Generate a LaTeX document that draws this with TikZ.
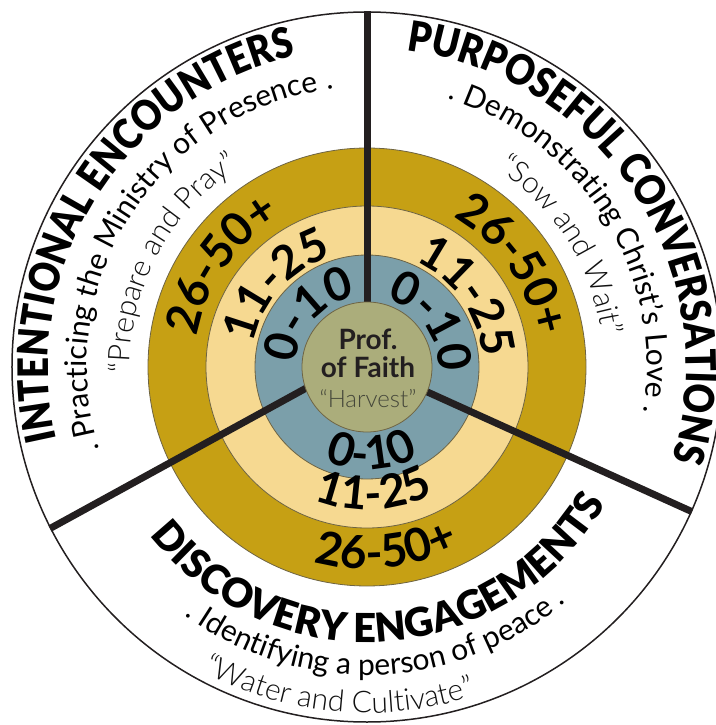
\documentclass[tikz,border=0pt]{standalone}
\usepackage{fontspec}
\setmainfont{Lato}
\newfontfamily\latoblack{Lato Black}[FakeStretch=0.87]
\newfontfamily\latoblackwide{Lato Black}
\newfontfamily\latolight{Lato Light}
\usetikzlibrary{decorations.text}

\definecolor{goldring}{HTML}{C6A014}
\definecolor{sandring}{HTML}{F6D991}
\definecolor{bluering}{HTML}{7B9FAA}
\definecolor{olivedisc}{HTML}{ABAD7B}
\definecolor{ringedge}{HTML}{6E6444}
\definecolor{inkline}{HTML}{231F20}
\definecolor{harvestgray}{HTML}{45473A}
\definecolor{quotegray}{HTML}{111111}

% fonts for the curved texts
\newcommand\ttlfont{\latoblack\fontsize{42}{42}\selectfont}
\newcommand\ttlwidefont{\latoblackwide\fontsize{40}{40}\selectfont}
\newcommand\subfont{\fontsize{30}{30}\selectfont}
\newcommand\quotefont{\latolight\fontsize{30}{30}\selectfont\color{quotegray}}
\newcommand\numfont{\fontsize{46}{46}\selectfont\bfseries}

\begin{document}
\begin{tikzpicture}[
    x=1pt, y=1pt,
    % Styles
    ring/.style={% For the coloured rings
        circle,
        draw=ringedge,
        line width=0.8pt,
        inner sep=0pt,
        },
    rim/.style={% For the outer circle
        circle,
        draw=inkline,
        line width=1.5pt,
        inner sep=0pt,
        },
    divider/.style={% For the three spokes
        draw=inkline,
        line width=7pt,
        },
    arctext/.style={% Text set along an arc
        decorate,
        decoration={text along path, text align=center, text={#1}},
        },
    hublabel/.style={% For the centre texts
        anchor=base,
        inner sep=0pt,
        },
    ]
    \useasboundingbox (-367,-358) rectangle (348,367);

    % Draw the outer circle and the rings
    \node [rim, minimum size=710pt] (outer) at (0,0) {};
    \node [ring, fill=goldring, minimum size=438pt] (gold) at (0,0) {};
    \node [ring, fill=sandring, minimum size=322pt] (sand) at (0,0) {};
    \node [ring, fill=bluering, minimum size=224pt] (blue) at (0,0) {};

    % Draw the spokes
    \draw [divider] (0,60) -- (outer.90);
    \draw [divider] (-57,-19) -- (outer.207);
    \draw [divider] (56,-23) -- (outer.336);

    % Draw the hub
    \node [ring, fill=olivedisc, minimum size=130pt] (hub) at (0,0) {};
    \node [hublabel, font=\fontsize{28}{28}\selectfont\bfseries, text=inkline] (prof) at (1,17) {Prof.};
    \node [hublabel, font=\fontsize{28}{28}\selectfont\bfseries, text=inkline] (faith) at (1,-10) {of Faith};
    \node [hublabel, font=\latolight\fontsize{24}{24}\selectfont, text=harvestgray] (harvest) at (1,-40) {“Harvest”};

    % Intentional encounters (upper left)
    \path [arctext={|\ttlfont|INTENTIONAL ENCOUNTERS}] (228:319) arc[start angle=228, end angle=68, radius=319];
    \path [arctext={|\subfont|. Practicing the Ministry of Presence .}] (227:280) arc[start angle=227, end angle=67, radius=280];
    \path [arctext={|\quotefont|“Prepare and Pray”}] (232:237) arc[start angle=232, end angle=72, radius=237];
    \path [arctext={|\numfont|26-50+}] (225:173) arc[start angle=225, end angle=65, radius=173];
    \path [arctext={|\numfont|11-25}] (218:116) arc[start angle=218, end angle=58, radius=116];
    \path [arctext={|\numfont|0-10}] (218:71) arc[start angle=218, end angle=58, radius=71];

    % Purposeful conversations (upper right)
    \path [arctext={|\ttlfont|PURPOSEFUL CONVERSATIONS}] (113:319) arc[start angle=113, end angle=-47, radius=319];
    \path [arctext={|\subfont|. Demonstrating Christ’s Love .}] (112:280) arc[start angle=112, end angle=-48, radius=280];
    \path [arctext={|\quotefont|“Sow and Wait”}] (112:237) arc[start angle=112, end angle=-48, radius=237];
    \path [arctext={|\numfont|26-50+}] (115:173) arc[start angle=115, end angle=-45, radius=173];
    \path [arctext={|\numfont|11-25}] (115:116) arc[start angle=115, end angle=-45, radius=116];
    \path [arctext={|\numfont|0-10}] (115:71) arc[start angle=115, end angle=-45, radius=71];

    % Discovery engagements (bottom), read left to right
    \path [arctext={|\ttlwidefont|DISCOVERY ENGAGEMENTS}] (194:275) arc[start angle=194, end angle=354, radius=275];
    \path [arctext={|\subfont|. Identifying a person of peace .}] (192:308) arc[start angle=192, end angle=352, radius=308];
    \path [arctext={|\quotefont|“Water and Cultivate”}] (185:346) arc[start angle=185, end angle=345, radius=346];
    \path [arctext={|\numfont|0-10}] (193:103) arc[start angle=193, end angle=353, radius=103];
    \path [arctext={|\numfont|11-25}] (193:143) arc[start angle=193, end angle=353, radius=143];
    \path [arctext={|\numfont|26-50+}] (196:202) arc[start angle=196, end angle=356, radius=202];
\end{tikzpicture}
\end{document}
